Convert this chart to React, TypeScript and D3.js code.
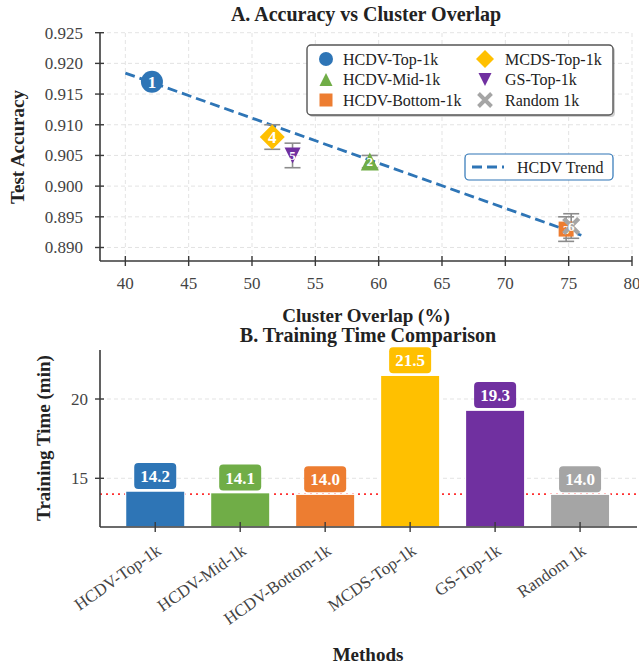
import React, { useEffect, useRef } from 'react';
import * as d3 from 'd3';

// values
const methods = ['HCDV-Top-1k', 'HCDV-Mid-1k', 'HCDV-Bottom-1k', 'MCDS-Top-1k', 'GS-Top-1k', 'Random 1k'];
const overlap = [42.1, 59.3, 74.8, 51.6, 53.2, 75.2];
const accuracy = [0.917, 0.904, 0.893, 0.908, 0.905, 0.8935];
const accError = [0.001, 0.001, 0.002, 0.002, 0.002, 0.002];
const rank = [1, 2, 3, 4, 5, 6];
const trainTime = [14.2, 14.1, 14.0, 21.5, 19.3, 14.0];
const baselineTime = 14.0;
const trendIdx = [0, 1, 2];
const trendRange = [40, 76];

const xTicksA = [40, 45, 50, 55, 60, 65, 70, 75, 80];
const yTicksA = [0.89, 0.895, 0.9, 0.905, 0.91, 0.915, 0.92, 0.925];
const yTicksB = [15, 20];

const colors = ['#2E75B6', '#70AD47', '#ED7D31', '#FFC000', '#7030A0', '#A5A5A5'];
const shapes = ['circle', 'tri-up', 'square', 'diamond', 'tri-down', 'x'];
const markerSize = [11, 9, 7.5, 12.5, 8, 7.5];

const FONT = '"Liberation Serif", "Times New Roman", serif';

function shapePath(shape, s) {
    switch (shape) {
        case 'circle': {
            const p = d3.path();
            p.arc(0, 0, s, 0, Math.PI * 2);
            return p.toString();
        }
        case 'square':
            return `M${-s},${-s}H${s}V${s}H${-s}Z`;
        case 'diamond':
            return `M0,${-s}L${s},0L0,${s}L${-s},0Z`;
        case 'tri-up':
            return `M0,${-s}L${s},${s}L${-s},${s}Z`;
        case 'tri-down':
            return `M0,${s}L${s},${-s}L${-s},${-s}Z`;
        default:
            return `M${-s},${-s}L${s},${s}M${s},${-s}L${-s},${s}`;
    }
}

function drawMarker(g, shape, s, color) {
    if (shape === 'x') {
        g.append('path').attr('d', shapePath(shape, s))
            .attr('stroke', color).attr('stroke-width', s * 0.6).attr('fill', 'none');
    } else {
        g.append('path').attr('d', shapePath(shape, s)).attr('fill', color);
    }
}

const App = () => {
    const svgRef = useRef(null);

    useEffect(() => {
        const svg = d3.select(svgRef.current);
        svg.selectAll('*').remove();
        svg.attr('font-family', FONT);

        // ---------------- A. scatter ----------------
        const xA = d3.scaleLinear().domain([38, 80]).range([100, 632]);
        const yA = d3.scaleLinear().domain([0.8878, 0.925]).range([261, 32.7]);

        const gA = svg.append('g');

        // grid
        gA.selectAll('.gx').data(xTicksA).join('line')
            .attr('x1', d => xA(d)).attr('x2', d => xA(d))
            .attr('y1', yA.range()[0]).attr('y2', yA.range()[1])
            .attr('stroke', '#dcdcdc').attr('stroke-dasharray', '4,3').attr('stroke-width', 0.8);
        gA.selectAll('.gy').data(yTicksA).join('line')
            .attr('x1', 100).attr('x2', 632)
            .attr('y1', d => yA(d)).attr('y2', d => yA(d))
            .attr('stroke', '#dcdcdc').attr('stroke-dasharray', '4,3').attr('stroke-width', 0.8);

        // trend line (least squares over HCDV points)
        const tx = trendIdx.map(i => overlap[i]);
        const ty = trendIdx.map(i => accuracy[i]);
        const mx = d3.mean(tx), my = d3.mean(ty);
        const slope = d3.sum(tx, (x, k) => (x - mx) * (ty[k] - my)) / d3.sum(tx, x => (x - mx) ** 2);
        const trendLine = d3.line().x(d => xA(d)).y(d => yA(my + slope * (d - mx)));
        gA.append('path').attr('d', trendLine(trendRange))
            .attr('fill', 'none').attr('stroke', colors[0])
            .attr('stroke-width', 2.8).attr('stroke-dasharray', '10,5');

        // error bars
        methods.forEach((m, i) => {
            const cx = xA(overlap[i]);
            const eb = gA.append('g').attr('stroke', '#8c8c8c').attr('stroke-width', 1.6);
            eb.append('line').attr('x1', cx).attr('x2', cx)
                .attr('y1', yA(accuracy[i] - accError[i])).attr('y2', yA(accuracy[i] + accError[i]));
            [-1, 1].forEach(sg => {
                const yy = yA(accuracy[i] + sg * accError[i]);
                eb.append('line').attr('x1', cx - 8).attr('x2', cx + 8).attr('y1', yy).attr('y2', yy);
            });
        });

        // markers + rank numbers
        methods.forEach((m, i) => {
            const g = gA.append('g').attr('transform', `translate(${xA(overlap[i])},${yA(accuracy[i])})`);
            drawMarker(g, shapes[i], markerSize[i], colors[i]);
            g.append('text').text(rank[i])
                .attr('text-anchor', 'middle').attr('dy', '0.35em')
                .attr('fill', '#fff').attr('font-weight', 'bold')
                .attr('font-size', shapes[i] === 'circle' || shapes[i] === 'diamond' ? 17 : 13);
        });

        // axes
        gA.append('line').attr('x1', 100).attr('x2', 100).attr('y1', 32.7).attr('y2', 261)
            .attr('stroke', '#3a3a3a').attr('stroke-width', 1.6);
        gA.append('line').attr('x1', 100).attr('x2', 632).attr('y1', 261).attr('y2', 261)
            .attr('stroke', '#3a3a3a').attr('stroke-width', 1.6);
        yTicksA.forEach(t => {
            gA.append('line').attr('x1', 95).attr('x2', 104).attr('y1', yA(t)).attr('y2', yA(t))
                .attr('stroke', '#3a3a3a').attr('stroke-width', 1.4);
            gA.append('text').text(d3.format('.3f')(t))
                .attr('x', 83).attr('y', yA(t)).attr('dy', '0.35em')
                .attr('text-anchor', 'end').attr('font-size', 17).attr('fill', '#444');
        });
        xTicksA.forEach(t => {
            gA.append('line').attr('x1', xA(t)).attr('x2', xA(t)).attr('y1', 256).attr('y2', 266)
                .attr('stroke', '#3a3a3a').attr('stroke-width', 1.4);
            gA.append('text').text(t)
                .attr('x', xA(t)).attr('y', 289)
                .attr('text-anchor', 'middle').attr('font-size', 17).attr('fill', '#444');
        });

        gA.append('text').text('A. Accuracy vs Cluster Overlap')
            .attr('x', 366).attr('y', 21).attr('text-anchor', 'middle')
            .attr('font-size', 20).attr('font-weight', 'bold').attr('fill', '#222');
        gA.append('text').text('Cluster Overlap (%)')
            .attr('x', 366).attr('y', 322).attr('text-anchor', 'middle')
            .attr('font-size', 19).attr('font-weight', 'bold').attr('fill', '#222');
        gA.append('text').text('Test Accuracy')
            .attr('transform', 'translate(24,147) rotate(-90)').attr('text-anchor', 'middle')
            .attr('font-size', 19).attr('font-weight', 'bold').attr('fill', '#222');

        // legend 1
        const lg = gA.append('g');
        lg.append('rect').attr('x', 309).attr('y', 47).attr('width', 306).attr('height', 70)
            .attr('rx', 4).attr('fill', '#000').attr('opacity', 0.18);
        lg.append('rect').attr('x', 307).attr('y', 45).attr('width', 306).attr('height', 70)
            .attr('rx', 4).attr('fill', '#fff').attr('stroke', '#555').attr('stroke-width', 1.4);
        methods.forEach((m, i) => {
            const col = Math.floor(i / 3), row = i % 3;
            const mxp = col === 0 ? 326 : 485;
            const my2 = 59 + row * 20.5;
            const g = lg.append('g').attr('transform', `translate(${mxp},${my2})`);
            drawMarker(g, shapes[i], shapes[i] === 'circle' ? 7 : shapes[i] === 'diamond' ? 9 : 6.5, colors[i]);
            lg.append('text').text(m).attr('x', mxp + (col === 0 ? 17 : 20)).attr('y', my2).attr('dy', '0.35em')
                .attr('font-size', 16).attr('fill', '#222');
        });

        // legend 2
        gA.append('rect').attr('x', 465).attr('y', 154).attr('width', 148).attr('height', 26)
            .attr('rx', 4).attr('fill', '#fff').attr('stroke', colors[0]).attr('stroke-width', 1.2);
        gA.append('line').attr('x1', 472).attr('x2', 504).attr('y1', 167).attr('y2', 167)
            .attr('stroke', colors[0]).attr('stroke-width', 2.8).attr('stroke-dasharray', '10,5');
        gA.append('text').text('HCDV Trend').attr('x', 517).attr('y', 167).attr('dy', '0.35em')
            .attr('font-size', 16).attr('fill', '#222');

        // ---------------- B. bars ----------------
        const xB = d3.scaleLinear().domain([-0.65, 5.67]).range([100, 637]);
        const yB = d3.scaleLinear().domain([11.93, 23.09]).range([527, 350]);
        const gB = svg.append('g');

        yTicksB.forEach(t => {
            gB.append('line').attr('x1', 100).attr('x2', 637).attr('y1', yB(t)).attr('y2', yB(t))
                .attr('stroke', '#dcdcdc').attr('stroke-dasharray', '4,3').attr('stroke-width', 0.8);
        });
        gB.append('line').attr('x1', 100).attr('x2', 637)
            .attr('y1', yB(baselineTime)).attr('y2', yB(baselineTime))
            .attr('stroke', '#ff3030').attr('stroke-width', 1.6).attr('stroke-dasharray', '2,4');

        const bw = xB(0.7) - xB(0);
        gB.selectAll('.bar').data(trainTime).join('rect')
            .attr('x', (d, i) => xB(i) - bw / 2).attr('width', bw)
            .attr('y', d => yB(d)).attr('height', d => yB.range()[0] - yB(d))
            .attr('fill', (d, i) => colors[i]).attr('stroke', '#fff').attr('stroke-width', 1.5);

        trainTime.forEach((v, i) => {
            const cy = yB(v) - 15;
            gB.append('rect').attr('x', xB(i) - 21).attr('y', cy - 13).attr('width', 42).attr('height', 26)
                .attr('rx', 4).attr('fill', colors[i]);
            gB.append('text').text(d3.format('.1f')(v)).attr('x', xB(i)).attr('y', cy).attr('dy', '0.35em')
                .attr('text-anchor', 'middle').attr('font-size', 17).attr('font-weight', 'bold').attr('fill', '#fff');
        });

        gB.append('line').attr('x1', 100).attr('x2', 100).attr('y1', 350).attr('y2', 527)
            .attr('stroke', '#3a3a3a').attr('stroke-width', 1.6);
        gB.append('line').attr('x1', 100).attr('x2', 637).attr('y1', 527).attr('y2', 527)
            .attr('stroke', '#3a3a3a').attr('stroke-width', 1.6);
        yTicksB.forEach(t => {
            gB.append('line').attr('x1', 95).attr('x2', 104).attr('y1', yB(t)).attr('y2', yB(t))
                .attr('stroke', '#3a3a3a').attr('stroke-width', 1.4);
            gB.append('text').text(t).attr('x', 88).attr('y', yB(t)).attr('dy', '0.35em')
                .attr('text-anchor', 'end').attr('font-size', 17).attr('fill', '#444');
        });
        methods.forEach((m, i) => {
            gB.append('line').attr('x1', xB(i)).attr('x2', xB(i)).attr('y1', 522).attr('y2', 532)
                .attr('stroke', '#3a3a3a').attr('stroke-width', 1.4);
            gB.append('text').text(m)
                .attr('transform', `translate(${xB(i) + 7},553) rotate(-35)`)
                .attr('text-anchor', 'end').attr('font-size', 17).attr('fill', '#444');
        });

        gB.append('text').text('B. Training Time Comparison')
            .attr('x', 368).attr('y', 342).attr('text-anchor', 'middle')
            .attr('font-size', 20).attr('font-weight', 'bold').attr('fill', '#222');
        gB.append('text').text('Methods')
            .attr('x', 368).attr('y', 661).attr('text-anchor', 'middle')
            .attr('font-size', 19).attr('font-weight', 'bold').attr('fill', '#222');
        gB.append('text').text('Training Time (min)')
            .attr('transform', 'translate(50,438) rotate(-90)').attr('text-anchor', 'middle')
            .attr('font-size', 19).attr('font-weight', 'bold').attr('fill', '#222');
    }, []);

    return (
        <svg ref={svgRef} width={639} height={667}
            style={{ position: 'absolute', left: 0, top: 0, background: '#fff' }}></svg>
    );
};

export default App;
